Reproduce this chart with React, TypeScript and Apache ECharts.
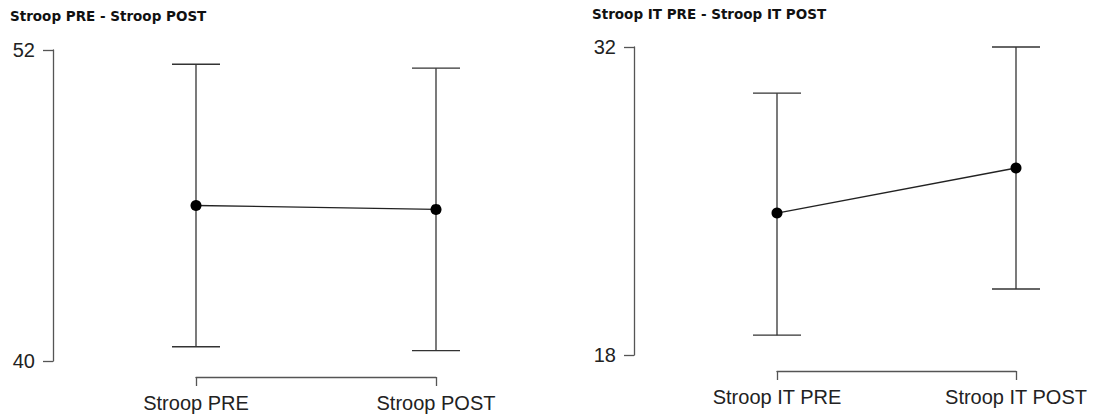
import React, { useEffect, useRef } from "react";
import * as echarts from "echarts";

const leftTitle = "Stroop PRE - Stroop POST";
const leftCategories = ["Stroop PRE", "Stroop POST"];
const leftMeans = [46.0, 45.85];
const leftLower = [40.55, 40.4];
const leftUpper = [51.45, 51.3];
const leftRange = [40, 52];

const rightTitle = "Stroop IT PRE - Stroop IT POST";
const rightCategories = ["Stroop IT PRE", "Stroop IT POST"];
const rightMeans = [24.45, 26.5];
const rightLower = [18.9, 21.0];
const rightUpper = [29.9, 32.0];
const rightRange = [18, 32];

const FONT = "'Liberation Sans', Arial, Helvetica, sans-serif";
const AXIS_COLOR = "#555";
const LINE_COLOR = "#222";

function errorRender(params: any, api: any) {
  const idx = api.value(0);
  const lo = api.coord([idx, api.value(1)]);
  const hi = api.coord([idx, api.value(2)]);
  const hw = 24;
  const style = { stroke: "#333", lineWidth: 1.3 };
  return {
    type: "group",
    children: [
      { type: "line", shape: { x1: lo[0], y1: lo[1], x2: hi[0], y2: hi[1] }, style },
      { type: "line", shape: { x1: hi[0] - hw, y1: hi[1], x2: hi[0] + hw, y2: hi[1] }, style },
      { type: "line", shape: { x1: lo[0] - hw, y1: lo[1], x2: lo[0] + hw, y2: lo[1] }, style },
    ],
  };
}

function xAxis(gridIndex: number, cats: string[]) {
  return {
    type: "category",
    gridIndex,
    data: cats,
    boundaryGap: false,
    offset: 16,
    axisLine: { show: true, lineStyle: { color: AXIS_COLOR, width: 1.3 } },
    axisTick: { show: true, length: 9, lineStyle: { color: AXIS_COLOR, width: 1.3 } },
    axisLabel: { color: "#222", fontSize: 20, fontFamily: FONT, margin: 16 },
    splitLine: { show: false },
  };
}

function yAxis(gridIndex: number, range: number[]) {
  return {
    type: "value",
    gridIndex,
    min: range[0],
    max: range[1],
    interval: range[1] - range[0],
    offset: 143,
    axisLine: { show: true, lineStyle: { color: AXIS_COLOR, width: 1.3 } },
    axisTick: { show: true, length: 10, lineStyle: { color: AXIS_COLOR, width: 1.3 } },
    axisLabel: { color: "#222", fontSize: 20, fontFamily: FONT, margin: 18 },
    splitLine: { show: false },
  };
}

export default function App() {
  const ref = useRef<HTMLDivElement>(null);
  useEffect(() => {
    if (!ref.current) return;
    const chart = echarts.init(ref.current, undefined, { renderer: "svg" });
    const leftErr = leftCategories.map((_, i) => [i, leftLower[i], leftUpper[i]]);
    const rightErr = rightCategories.map((_, i) => [i, rightLower[i], rightUpper[i]]);
    const titleStyle = {
      fontFamily: "'DejaVu Sans', sans-serif",
      fontWeight: "bold",
      fontSize: 13.5,
      color: "#111",
    };
    chart.setOption({
      animation: false,
      backgroundColor: "#fff",
      title: [
        { text: leftTitle, left: 10, top: 9, textStyle: titleStyle, padding: 0 },
        { text: rightTitle, left: 592, top: 7, textStyle: titleStyle, padding: 0 },
      ],
      grid: [
        { left: 196, right: 1093 - 436, top: 50, bottom: 419 - 361, containLabel: false },
        { left: 777, right: 1093 - 1016, top: 47, bottom: 419 - 355, containLabel: false },
      ],
      xAxis: [xAxis(0, leftCategories), xAxis(1, rightCategories)],
      yAxis: [yAxis(0, leftRange), yAxis(1, rightRange)],
      series: [
        {
          type: "custom",
          xAxisIndex: 0,
          yAxisIndex: 0,
          renderItem: errorRender,
          data: leftErr,
          clip: false,
          z: 1,
        },
        {
          type: "custom",
          xAxisIndex: 1,
          yAxisIndex: 1,
          renderItem: errorRender,
          data: rightErr,
          clip: false,
          z: 1,
        },
        {
          type: "line",
          xAxisIndex: 0,
          yAxisIndex: 0,
          data: leftMeans,
          symbol: "circle",
          symbolSize: 11,
          itemStyle: { color: "#000" },
          lineStyle: { color: LINE_COLOR, width: 1.3 },
          z: 3,
        },
        {
          type: "line",
          xAxisIndex: 1,
          yAxisIndex: 1,
          data: rightMeans,
          symbol: "circle",
          symbolSize: 11,
          itemStyle: { color: "#000" },
          lineStyle: { color: LINE_COLOR, width: 1.3 },
          z: 3,
        },
      ],
    });
    return () => chart.dispose();
  }, []);
  return (
    <div
      ref={ref}
      style={{ position: "absolute", left: 0, top: 0, width: 1093, height: 419 }}
    />
  );
}
